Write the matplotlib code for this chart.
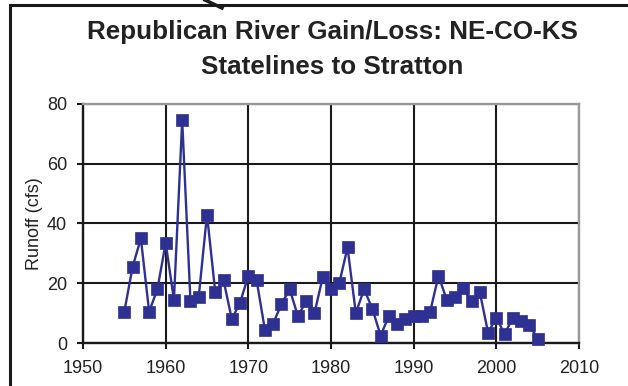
import matplotlib
matplotlib.use("Agg")
import matplotlib.pyplot as plt
from matplotlib.lines import Line2D
from matplotlib.patches import Rectangle

plt.rcParams['font.family'] = ['Liberation Sans', 'DejaVu Sans']

years = list(range(1955, 2006))
runoff = [10.5, 25.5, 35, 10.5, 18, 33.5, 14.5, 74.5, 14, 15.5,
          43, 17, 21, 8, 13.5, 22.5, 21, 4.5, 6.5, 13,
          18, 9, 14, 10, 22, 18, 20, 32, 10, 18,
          11.5, 2.5, 9, 6.5, 8, 9, 9, 10.5, 22.5, 14.5,
          15.5, 18.5, 14, 17, 3.5, 8.5, 3, 8.5, 7.5, 6, 1.5]

xticks = [1950, 1960, 1970, 1980, 1990, 2000, 2010]
yticks = [0, 20, 40, 60, 80]
title_lines = ["Republican River Gain/Loss: NE-CO-KS", "Statelines to Stratton"]
ylabel = "Runoff (cfs)"

W, H = 628, 386
fig = plt.figure(figsize=(W / 100, H / 100), dpi=100)
ax = fig.add_axes([83 / W, 1 - 343 / H, (579 - 83) / W, (343 - 104) / H])

ax.plot(years, runoff, color='#2E3192', lw=1.7, marker='s', markersize=8.2,
        markerfacecolor='#2E3192', markeredgecolor='#2E3192', markeredgewidth=0.5,
        zorder=3, clip_on=False)

ax.set_xlim(1950, 2010)
ax.set_ylim(0, 80)
ax.set_xticks(xticks)
ax.set_yticks(yticks)
ax.grid(True, color='#1a1a1a', lw=1.5)
ax.set_axisbelow(True)
for s in ['top', 'right']:
    ax.spines[s].set_color('#999999')
    ax.spines[s].set_linewidth(1.7)
for s in ['left', 'bottom']:
    ax.spines[s].set_color('#1a1a1a')
    ax.spines[s].set_linewidth(1.7)
ax.tick_params(direction='out', length=4, width=1.5, color='#1a1a1a',
               labelsize=13, labelcolor='#222222')
ax.tick_params(axis='x', pad=8.5)
ax.tick_params(axis='y', pad=7.5)
ax.set_ylabel(ylabel, fontsize=13, color='#222222')
ax.yaxis.set_label_coords(-0.08, 0.5)

fig.text(332 / W, 1 - 39.5 / H, title_lines[0], ha='center', va='baseline',
         fontsize=18.7, fontweight='bold', color='#222222')
fig.text(332 / W, 1 - 73.5 / H, title_lines[1], ha='center', va='baseline',
         fontsize=18.7, fontweight='bold', color='#222222')

# outer frame
fig.patches.append(Rectangle((10 / W, -0.1), 1.2, 1 - 5 / H + 0.1, transform=fig.transFigure,
                             fill=False, edgecolor='#1a1a1a', lw=2.2))
fig.lines.append(Line2D([205 / W, 222 / W], [1.0, 1 - 8 / H], transform=fig.transFigure,
                        color='#1a1a1a', lw=2.5))

fig.savefig('out.png', dpi=100)
